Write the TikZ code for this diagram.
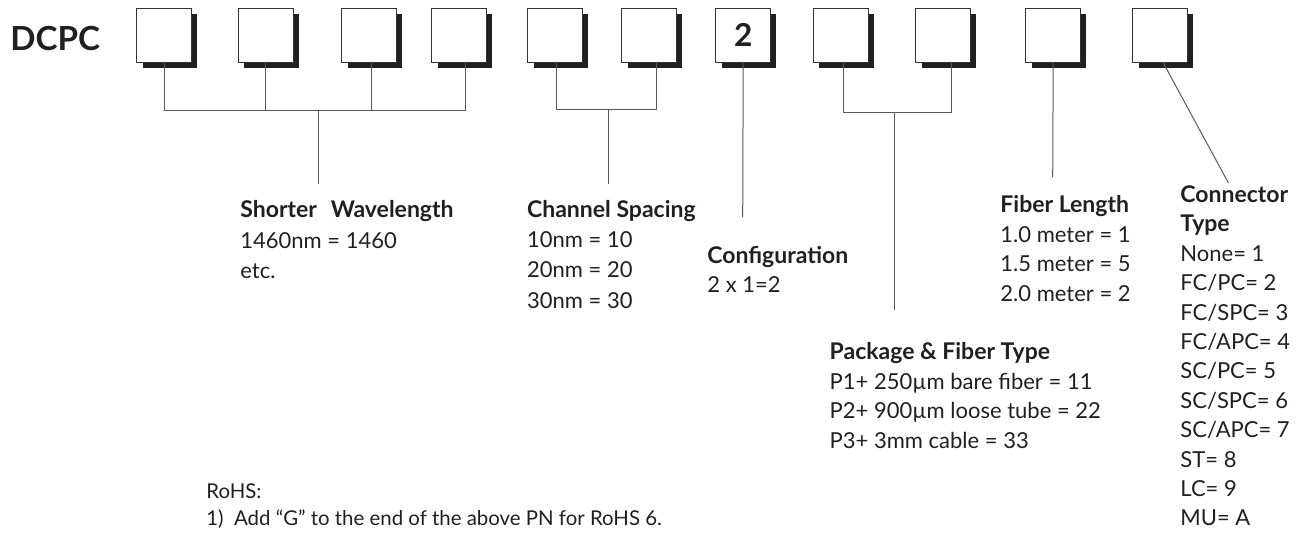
\documentclass[tikz,border=0pt]{standalone}
\usepackage{fontspec}
\setmainfont{Lato}
\usetikzlibrary{positioning,calc,shadows}
\definecolor{ink}{HTML}{231F20}
\definecolor{wire}{HTML}{58595B}

\tikzset{
  digit/.style={draw=black!80, line width=0.5pt, fill=white, inner sep=0pt,
    minimum width=27.3pt, minimum height=27pt, text=ink,
    font=\fontsize{15.8}{18}\selectfont\bfseries,
    drop shadow={shadow xshift=2.8pt, shadow yshift=-2.8pt, fill=ink, opacity=1}},
  lead/.style={draw=wire, line width=0.5pt},
  txt/.style={anchor=base west, inner sep=0pt, text=ink, font=\fontsize{11}{13}\selectfont},
  head/.style={txt, font=\fontsize{11.5}{13}\selectfont\bfseries},
  note/.style={txt, font=\fontsize{10.2}{12}\selectfont},
}

\begin{document}
\begin{tikzpicture}[x=0.5pt, y=-0.5pt]
  \useasboundingbox (0,0) rectangle (1305,532);
  % part number and code boxes
  \node[anchor=base west, inner sep=0pt, text=ink, font=\fontsize{16.6}{20}\selectfont\bfseries] (pn) at (10,50.7) {DCPC};
  \node[digit] (b1) at (164.2,35.3) {};
  \node[digit] (b2) at (265.8,35.3) {};
  \node[digit] (b3) at (369.2,35.3) {};
  \node[digit] (b4) at (459.2,35.3) {};
  \node[digit] (b5) at (555.2,35.3) {};
  \node[digit] (b6) at (649.2,35.3) {};
  \node[digit] (b7) at (743.2,35.3) {2};
  \node[digit] (b8) at (840.8,35.3) {};
  \node[digit] (b9) at (943.2,35.3) {};
  \node[digit] (b10) at (1053.2,35.3) {};
  \node[digit] (b11) at (1160.2,35.3) {};
  % bar heights and free ends
  \coordinate (bar1) at (0,110);
  \coordinate (bar2) at (0,109);
  \coordinate (bar3) at (0,112.7);
  \coordinate (wl-end) at (318.3,184);
  \coordinate (cs-end) at (608.3,184);
  \coordinate (cf-end) at (742.7,217);
  \coordinate (pk-end) at (894,310);
  \coordinate (fl-end) at (1052.7,177);
  \coordinate (ct-end) at (1228.3,182.7);
  % Shorter wavelength
  \draw[lead] (b1.south) -- (b1.south |- bar1) -- ([xshift=3pt]b4.south |- bar1) -- ([xshift=3pt]b4.south);
  \draw[lead] (b2.south) -- (b2.south |- bar1);
  \draw[lead] ([xshift=1.2pt]b3.south) -- ([xshift=1.2pt]b3.south |- bar1);
  \draw[lead] (wl-end |- bar1) -- (wl-end);
  % Channel spacing
  \draw[lead] ([xshift=.7pt]b5.south) -- ([xshift=.7pt]b5.south |- bar2) -- ([xshift=3.4pt]b6.south |- bar2) -- ([xshift=3.4pt]b6.south);
  \draw[lead] (cs-end |- bar2) -- (cs-end);
  % Configuration
  \draw[lead] (b7.south) -- (cf-end);
  % Package & fiber type
  \draw[lead] ([xshift=1.2pt]b8.south) -- ([xshift=1.2pt]b8.south |- bar3) -- ([xshift=3.9pt]b9.south |- bar3) -- ([xshift=3.9pt]b9.south);
  \draw[lead] (pk-end |- bar3) -- (pk-end);
  % Fiber length
  \draw[lead] (b10.south) -- (fl-end);
  % Connector type
  \draw[lead] ([xshift=1.5pt]b11.south) -- (ct-end);
  % legends
  \node[head] (wl-head) at (240,217.3) {Shorter\hspace{0.6em}Wavelength};
  \node[txt] (wl-1) at (240,248) {1460nm = 1460};
  \node[txt] (wl-2) at (240,278.3) {etc.};
  \node[head] (cs-head) at (526.7,217.3) {Channel Spacing};
  \foreach \t [count=\i] in {10nm = 10, 20nm = 20, 30nm = 30}
    \node[txt] (cs-\i) at (526.7,217.3+30.3*\i) {\t};
  \node[head] (cf-head) at (707,263) {Configuration};
  \node[txt] (cf-1) at (707,292.5) {2 x 1=2};
  \node[head] (fl-head) at (1000,212.5) {Fiber Length};
  \foreach \t [count=\i] in {1.0 meter = 1, 1.5 meter = 5, 2.0 meter = 2}
    \node[txt] (fl-\i) at (1000,212.5+29.5*\i) {\t};
  \node[head] (pk-head) at (829.3,359.3) {Package \& Fiber Type};
  \foreach \t [count=\i] in {P1+ 250µm bare fiber = 11, P2+ 900µm loose tube = 22, P3+ 3mm cable = 33}
    \node[txt] (pk-\i) at (829.3,359.3+29.7*\i) {\t};
  \node[head] (ct-head) at (1180,202.4) {Connector};
  \node[head] (ct-type) at (1180,231.8) {Type};
  \foreach \t [count=\i] in {None= 1, FC/PC= 2, FC/SPC= 3, FC/APC= 4, SC/PC= 5, SC/SPC= 6, SC/APC= 7, ST= 8, LC= 9, MU= A}
    \node[txt] (ct-\i) at (1180,231.8+29.4*\i) {\t};
  % RoHS note
  \node[note] (rohs) at (206,498) {RoHS:};
  \node[note] (rohs-1) at (206,525) {1)~~Add “G” to the end of the above PN for RoHS 6.};
\end{tikzpicture}
\end{document}
